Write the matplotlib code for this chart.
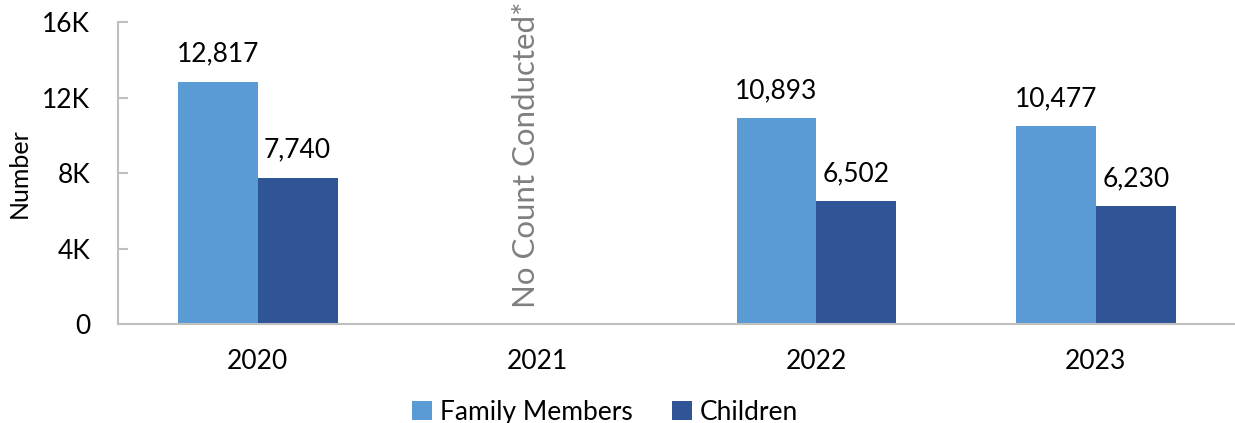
import matplotlib
matplotlib.use("Agg")
import matplotlib.pyplot as plt
import numpy as np
from matplotlib.ticker import FixedLocator

years = ["2020", "2021", "2022", "2023"]
family = [12817, None, 10893, 10477]
children = [7740, None, 6502, 6230]
yticks = [0, 4000, 8000, 12000, 16000]
ytick_labels = ["0", "4K", "8K", "12K", "16K"]
note = "No Count Conducted*"

plt.rcParams['font.family'] = ['Lato', 'DejaVu Sans']

fig = plt.figure(figsize=(12.35, 4.23), dpi=100)
ax = fig.add_axes([0.0955, 0.234, 0.905, 0.714])

x = np.arange(len(years))
w = 0.286
c_fam = "#5B9BD5"
c_chi = "#2F5597"
fx = [xi for xi, v in zip(x, family) if v is not None]
fv = [v for v in family if v is not None]
cx = [xi for xi, v in zip(x, children) if v is not None]
cv = [v for v in children if v is not None]
b1 = ax.bar(np.array(fx) - w/2, fv, w, color=c_fam, label="Family Members")
b2 = ax.bar(np.array(cx) + w/2, cv, w, color=c_chi, label="Children")

fs = 19
for xi, v in zip(fx, fv):
    ax.annotate(f"{v:,}", (xi - w/2, v), xytext=(0, 11), textcoords="offset points",
                ha="center", va="bottom", fontsize=fs, color="black")
for xi, v in zip(cx, cv):
    ax.annotate(f"{v:,}", (xi + w/2, v), xytext=(0, 11), textcoords="offset points",
                ha="center", va="bottom", fontsize=fs, color="black")

ax.text(1 - 0.04, 850, note, rotation=90, ha="center", va="bottom",
        fontsize=22.5, color="#7f7f7f")

ax.set_xlim(-0.5, 3.5)
ax.set_ylim(0, 16000)
ax.set_xticks(x)
ax.set_xticklabels(years, fontsize=fs)
ax.yaxis.set_major_locator(FixedLocator(yticks))
ax.set_yticklabels(ytick_labels, fontsize=fs)
ax.tick_params(axis="x", length=0, pad=18)
ax.tick_params(axis="y", direction="in", length=7, color="#bfbfbf", width=1.5, pad=20)
for s in ["top", "right"]:
    ax.spines[s].set_visible(False)
for s in ["left", "bottom"]:
    ax.spines[s].set_color("#bfbfbf")
    ax.spines[s].set_linewidth(1.5)
ax.set_ylabel("Number", fontsize=18, labelpad=8)

fig.legend(handles=[b1, b2], loc="lower center", bbox_to_anchor=(0.49, -0.06),
           ncol=2, frameon=False, fontsize=fs, handlelength=0.75, handleheight=0.75,
           handletextpad=0.3, columnspacing=1.5)

fig.savefig("out.png", dpi=100)
